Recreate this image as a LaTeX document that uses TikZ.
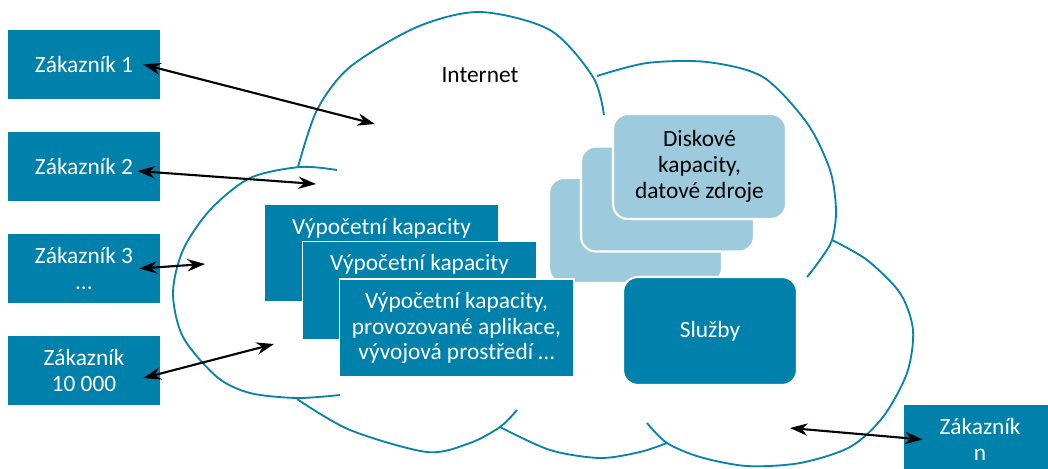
\documentclass[tikz,border=0pt]{standalone}
\usepackage{fontspec}
\setmainfont{Carlito}
\usepackage{tikz}
\usetikzlibrary{arrows.meta,positioning}
\definecolor{tealbox}{HTML}{0081AB}
\definecolor{skybox}{HTML}{9DCBDD}
\definecolor{cloudcol}{HTML}{0A82AA}

\begin{document}
\begin{tikzpicture}[x=0.02cm,y=-0.02cm]
 \tikzset{every node/.style={font=\fontsize{13.3}{14.7}\selectfont},
  cust/.style={rectangle, fill=tealbox, text=white, align=center, inner sep=0pt, minimum width=3.04cm, minimum height=1.38cm},
  comp/.style={rectangle, fill=tealbox, draw=white, line width=0.6pt, text=white, align=center, minimum width=4.7cm, minimum height=1.96cm},
  disk/.style={rectangle, rounded corners=0.3cm, fill=skybox, draw=white, line width=1.2pt, align=center, minimum width=3.46cm, minimum height=2.1cm},
  svc/.style={rectangle, rounded corners=0.3cm, fill=tealbox, draw=white, line width=1.2pt, text=white, minimum width=3.48cm, minimum height=2.16cm},
  wtext/.style={text=white, anchor=base},
  cloudline/.style={draw=cloudcol, line width=1.05pt},
  link/.style={{Stealth[length=10pt,width=7pt]}-{Stealth[length=10pt,width=7pt]}, line width=1.2pt}};
  \clip (0,0) rectangle (1048,468);
  % cloud
  \draw[cloudline] plot[smooth] coordinates {(298,167) (317,110) (350,67) (417,27) (480,12) (550,30) (593,77) (604,115)};
  \draw[cloudline] plot[smooth] coordinates {(597,76) (647,63) (707,62) (763,77) (807,123) (830,170) (836,210) (832,240) (820,260) (807,277)};
  \draw[cloudline] plot[smooth] coordinates {(832,240) (867,260) (900,293) (913,330) (907,373) (883,417) (850,447) (800,463) (747,466) (700,457) (667,443) (647,423)};
  \draw[cloudline] plot[smooth] coordinates {(500,427) (550,450) (600,458) (640,452) (667,443)};
  \draw[cloudline] plot[smooth] coordinates {(297,399) (350,430) (427,452) (470,443) (500,427) (517,410)};
  \draw[cloudline] plot[smooth] coordinates {(337,170) (300,167) (250,178) (210,210) (183,250) (173,293) (183,337) (217,377) (250,393) (297,398) (340,395)};
  \node (inet) at (480,75) {Internet};
  % customers
  \node[cust] (z1) at (84,64.5) {Zákazník 1};
  \node[cust] (z2) at (84,166.5) {Zákazník 2};
  \node[cust] (z3) at (84,268.5) {Zákazník 3\\…};
  \node[cust] (z4) at (84,370.5) {Zákazník\\10 000};
  \node[cust] (zn) at (980,439.5) {Zákazník\\n};
  % computing
  \node[comp] (vk1) at (381.5,253) {};
  \node[wtext] (vk1t) at ([yshift=-0.62cm]vk1.north) {Výpočetní kapacity};
  \node[comp] (vk2) at (419.5,290.5) {};
  \node[wtext] (vk2t) at ([yshift=-0.6cm]vk2.north) {Výpočetní kapacity};
  % storage
  \node[disk] (d3) at (635.5,230.5) {};
  \node[disk] (d2) at (667.5,199) {};
  \node[disk] (d1) at (699.5,166.5) {Diskové\\kapacity,\\datové zdroje};
  \node[comp] (vk3) at (456.5,328) {Výpočetní kapacity,\\provozované aplikace,\\vývojová prostředí …};
  \node[svc] (sluz) at (710,331) {Služby};
  % links
  \coordinate (c1) at (375,124);
  \coordinate (c2) at (316,184);
  \coordinate (c3) at (205,264);
  \coordinate (c4) at (274,344);
  \coordinate (cn) at (790,428);
  \draw[link] ([xshift=-0.34cm]z1.east) -- (c1);
  \draw[link] ([xshift=-0.46cm,yshift=-0.09cm]z2.east) -- (c2);
  \draw[link] ([xshift=-0.42cm]z3.east) -- (c3);
  \draw[link] ([xshift=-0.34cm,yshift=-0.15cm]z4.east) -- (c4);
  \draw[link] (cn) -- ([xshift=0.38cm]zn.west);
\end{tikzpicture}
\end{document}
